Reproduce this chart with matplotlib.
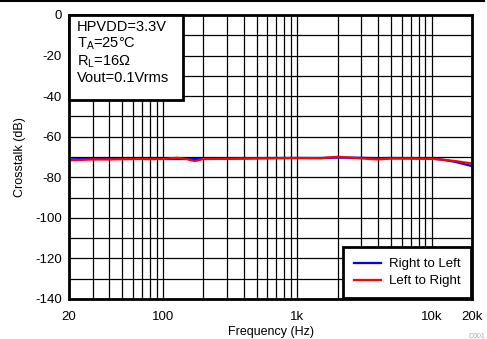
import matplotlib.pyplot as plt
from matplotlib.patches import Rectangle
from matplotlib.ticker import FixedLocator, NullFormatter

plt.rcParams['font.family'] = ['Liberation Sans', 'DejaVu Sans']
plt.rcParams['axes.unicode_minus'] = False

# data
freq = [20, 25, 30, 40, 50, 60, 70, 80, 90, 100, 127, 150, 173, 200, 300, 400, 500,
        700, 1000, 1500, 2000, 3000, 3900, 5000, 7000, 10000, 12000, 15000, 20000]
right_to_left = [-71.2, -71.0, -71.0, -71.0, -70.9, -71.0, -70.8, -70.7, -70.6, -71.0, -71.0,
                 -71.0, -71.0, -70.9, -70.8, -70.7, -70.6, -70.5, -70.5, -70.5, -70.3, -70.4,
                 -70.6, -70.5, -70.6, -70.8, -71.3, -72.4, -74.5]
left_to_right = [-71.6, -71.4, -71.2, -71.2, -71.1, -71.0, -71.0, -71.1, -71.0, -71.0, -70.4,
                 -71.0, -72.0, -71.0, -70.9, -70.8, -70.7, -70.6, -70.5, -70.6, -69.9, -70.7,
                 -71.2, -70.8, -70.8, -70.9, -71.3, -72.0, -73.2]
xtick_vals = [20, 100, 1000, 10000, 20000]
xtick_labels = ['20', '100', '1k', '10k', '20k']
ytick_vals = [0, -20, -40, -60, -80, -100, -120, -140]

fig = plt.figure(figsize=(4.87, 3.39), dpi=100)
ax = fig.add_axes([0.1417, 0.118, 0.8276, 0.8378])

ax.plot(freq, right_to_left, color='#0000ff', lw=1.6, label='Right to Left')
ax.plot(freq, left_to_right, color='#ff0000', lw=1.6, label='Left to Right')

ax.set_xscale('log')
ax.set_xlim(20, 20000)
ax.set_ylim(-140, 0)

ax.xaxis.set_major_locator(FixedLocator(xtick_vals))
ax.set_xticklabels(xtick_labels)
minor = [m * d for d in (10, 100, 1000, 10000) for m in range(2, 10) if 20 <= m * d <= 20000]
ax.xaxis.set_minor_locator(FixedLocator(minor))
ax.xaxis.set_minor_formatter(NullFormatter())
ax.set_yticks(ytick_vals)
ax.yaxis.set_minor_locator(FixedLocator(list(range(-130, 0, 20))))

ax.grid(True, which='both', color='black', lw=0.9)
ax.tick_params(which='both', length=0, labelsize=9.5)
ax.tick_params(axis='x', pad=9)
ax.tick_params(axis='y', pad=5)
for s in ax.spines.values():
    s.set_linewidth(2)

ax.set_xlabel('Frequency (Hz)', fontsize=9, labelpad=2)
ax.set_ylabel('Crosstalk (dB)', fontsize=9, labelpad=7)

# condition box in the top-left corner
ax.add_patch(Rectangle((0, 0.70), 0.283, 0.30, transform=ax.transAxes,
                       fc='white', ec='black', lw=2, zorder=5, clip_on=False))
ax.text(0.02, 0.982,
        'HPVDD=3.3V\n$\\mathregular{T_A}$=25°C\n$\\mathregular{R_L}$=16Ω\nVout=0.1Vrms',
        transform=ax.transAxes, va='top', ha='left', fontsize=10.5, linespacing=1.12,
        zorder=6)

leg = ax.legend(loc='lower right', fontsize=9.5, fancybox=False, framealpha=1,
                edgecolor='black', borderaxespad=0.05, handlelength=2.0,
                handletextpad=0.6, borderpad=0.85, labelspacing=0.35)
leg.get_frame().set_linewidth(2)

fig.add_artist(plt.Line2D([0, 0.994], [0.998, 0.998], color='black', lw=1.5))
fig.text(0.962, 0.004, 'D001', fontsize=5, color='#aaaaaa')

plt.savefig('out.png', dpi=100)
